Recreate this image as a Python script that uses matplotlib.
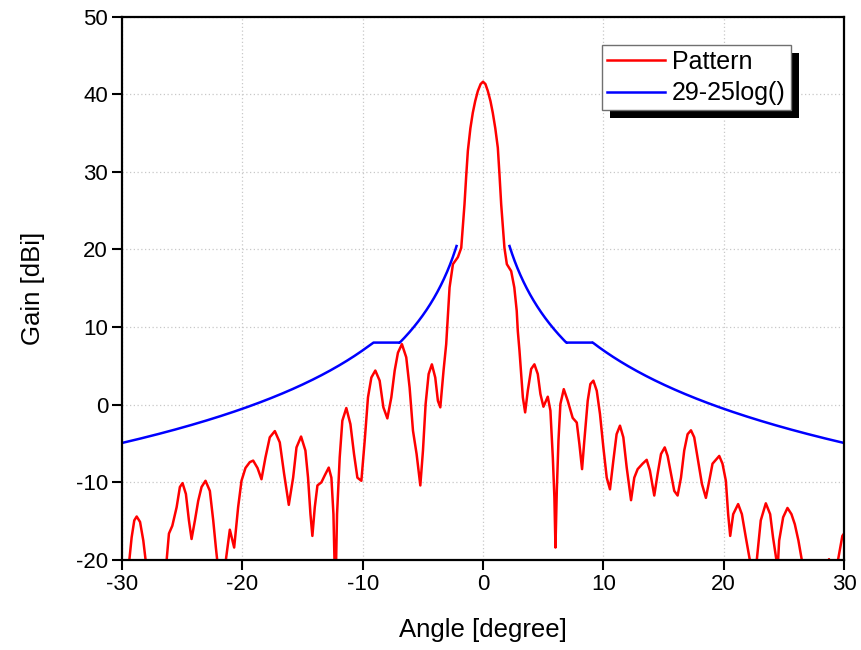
import numpy as np
import matplotlib
matplotlib.use('Agg')
import matplotlib.pyplot as plt
from matplotlib.patches import Rectangle
from matplotlib.transforms import IdentityTransform

plt.rcParams['font.family'] = ['Liberation Sans', 'DejaVu Sans']
plt.rcParams['axes.unicode_minus'] = False

# measured antenna pattern (angle in degree, gain in dBi)
angle = [-30.0, -29.6, -29.39, -29.2, -28.98, -28.78, -28.5, -28.23, -28.04, -27.6, -27.0, -26.6,
         -26.29, -26.1, -25.82, -25.46, -25.19, -24.97, -24.69, -24.44, -24.22, -23.94, -23.67,
         -23.39, -23.06, -22.7, -22.42, -22.2, -22.09, -21.75, -21.37, -21.04, -20.68, -20.35,
         -20.07, -19.74, -19.38, -19.1, -18.74, -18.41, -18.08, -17.72, -17.3, -16.89, -16.53,
         -16.14, -15.78, -15.5, -15.12, -14.76, -14.54, -14.34, -14.18, -13.98, -13.76, -13.43,
         -13.15, -12.82, -12.6, -12.43, -12.27, -12.13, -11.91, -11.69, -11.36, -11.02, -10.72,
         -10.44, -10.11, -9.83, -9.56, -9.28, -8.95, -8.59, -8.28, -7.95, -7.62, -7.34, -7.07,
         -6.74, -6.38, -6.1, -5.82, -5.52, -5.21, -4.99, -4.77, -4.52, -4.25, -3.97, -3.75,
         -3.55, -3.28, -3.06, -2.78, -2.5, -2.09, -1.81, -1.54, -1.4, -1.26, -1.05, -0.85, -0.65,
         -0.43, -0.2, 0.0, 0.2, 0.4, 0.62, 0.81, 1.02, 1.23, 1.37, 1.51, 1.78, 1.98, 2.34, 2.6,
         2.8, 2.89, 3.03, 3.17, 3.31, 3.5, 3.72,
         4.0, 4.27, 4.55, 4.77, 5.02, 5.38, 5.6, 5.8, 5.93, 6.02, 6.13, 6.27, 6.43, 6.71, 7.04,
         7.45, 7.79, 8.01, 8.23, 8.42, 8.7, 8.92, 9.17, 9.45, 9.72, 10.0, 10.28, 10.55, 10.83,
         11.1, 11.38, 11.66, 11.94, 12.3, 12.57, 12.85, 13.26, 13.6, 13.87, 14.23, 14.51, 14.79,
         15.1, 15.34, 15.62, 15.89, 16.17, 16.45, 16.72, 17.0, 17.28, 17.55, 17.83, 18.19, 18.52,
         18.8, 19.07, 19.63, 19.9, 20.18, 20.37, 20.54, 20.79, 21.2, 21.51, 21.84, 22.17, 22.45,
         22.75, 23.08, 23.5, 23.86, 24.1, 24.38, 24.45, 24.61, 24.94, 25.3, 25.63, 25.91, 26.21,
         26.49, 26.9, 27.6, 28.2, 28.75, 29.2, 29.5, 29.86, 30.0]
gain = [-30.0, -25.0, -20.0, -17.1, -14.9, -14.4, -15.1, -17.5, -20.0, -25.0, -23.0, -25.0,
        -20.0, -16.6, -15.6, -13.2, -10.6, -10.1, -11.5, -14.9, -17.3, -14.9, -12.4,
        -10.6, -9.8, -11.1, -14.9, -18.4, -20.0, -26.0, -20.0, -16.1, -18.4, -13.2,
        -9.8, -8.15, -7.4, -7.2, -8.15, -9.6, -6.8, -4.2, -3.4, -4.85, -8.9,
        -12.9, -9.4, -5.5, -4.1, -5.9, -9.4, -14.1, -16.9, -13.2, -10.4, -10.0,
        -9.1, -8.1, -9.4, -14.1, -25.0, -14.1, -6.8, -2.06, -0.43, -2.5, -6.35,
        -9.4, -9.8, -4.6, 0.94, 3.5, 4.4, 3.1, -0.34, -1.76, 0.94, 4.4, 6.7,
        7.8, 6.1, 2.2, -3.35, -6.35, -10.4, -5.9, 0.09, 3.95, 5.2, 3.5, 0.5,
        -0.34, 4.4, 7.8, 15.1, 18.1, 19.0, 20.2, 25.8, 29.4, 32.7, 35.6, 37.6, 39.1,
        40.4, 41.3, 41.6, 41.3, 40.4, 39.1, 37.6, 35.6, 33.1, 29.6, 25.8, 20.2, 18.1, 17.2, 15.1,
        12.1, 9.5, 6.95, 3.95, 0.94, -0.99, 1.8,
        4.6, 5.2, 3.95, 1.37, -0.26, 1.03, -0.77, -6.8, -11.9, -18.4, -11.1, -4.6, 0.09, 2.0, 0.5,
        -1.7, -2.3, -5.1, -8.3, -4.6, 0.5, 2.66, 3.1, 1.8, -1.2, -5.5, -9.4, -10.9, -7.2,
        -3.8, -2.7, -4.2, -8.1, -12.3, -9.4, -8.3, -7.6, -7.1, -8.5, -11.7, -8.9, -6.35,
        -5.5, -6.6, -8.9, -11.1, -11.7, -9.4, -5.9, -3.8, -3.3, -4.2, -6.8, -10.2, -12.0,
        -9.8, -7.6, -6.6, -7.6, -9.8, -14.1, -16.9, -14.1, -12.8, -14.1, -17.1, -20.0, -25.0,
        -20.0, -14.9, -12.7, -14.1, -17.1, -20.0, -22.0, -17.5, -14.5, -13.3, -14.1, -15.4, -17.5,
        -20.0, -25.0, -23.0, -25.0, -19.9, -25.0, -20.0, -16.9, -16.6]

# sidelobe envelope: (theta_from, theta_to, a, b) for gain = a - b*log10(theta)
mask_segments = [(2.2, 6.92, 29.0, 25.0),
                 (6.92, 9.12, 8.0, 0.0),
                 (9.12, 30.0, 32.0, 25.0)]

theta, env = [], []
for t0, t1, a, b in mask_segments:
    t = np.linspace(t0, t1, 200)
    theta.append(t)
    env.append(a - b * np.log10(t))
theta = np.concatenate(theta)
env = np.concatenate(env)
mask_x = np.concatenate([-theta[::-1], [np.nan], theta])
mask_y = np.concatenate([env[::-1], [np.nan], env])

fig = plt.figure(figsize=(8.61, 6.5), dpi=100)
ax = fig.add_axes([0.1417, 0.1385, 0.8386, 0.8361])

ax.plot(angle, gain, color='#ff0000', lw=1.8, label='Pattern', solid_joinstyle='round')
ax.plot(mask_x, mask_y, color='#0000ff', lw=1.8, label='29-25log()')

ax.set_xlim(-30, 30)
ax.set_ylim(-20, 50)
ax.set_xticks(range(-30, 31, 10))
ax.set_yticks(range(-20, 51, 10))
ax.set_axisbelow(True)
ax.grid(True, color='#c8c8c8', linestyle=(0, (1, 2)), lw=0.9)
for s in ax.spines.values():
    s.set_linewidth(1.6)
ax.tick_params(direction='out', length=7, width=1.5, labelsize=16, pad=3)

ax.set_xlabel('Angle [degree]', fontsize=18.5, labelpad=17)
ax.set_ylabel('Gain [dBi]', fontsize=18.5, labelpad=22)

leg = ax.legend(loc='upper left', bbox_to_anchor=(0.665, 0.9476), borderaxespad=0,
                fancybox=False, framealpha=1, edgecolor='#707070', fontsize=18,
                handlelength=2.3, handletextpad=0.3, borderpad=0.2, labelspacing=0.3)
leg.get_frame().set_linewidth(1.0)

# solid drop shadow behind the legend box
fig.canvas.draw()
bb = leg.get_frame().get_window_extent()
shadow = Rectangle((bb.x0 + 8, bb.y0 - 8), bb.width, bb.height, transform=IdentityTransform(),
                   facecolor='black', edgecolor='none', zorder=4.9, clip_on=False)
ax.add_artist(shadow)

fig.savefig('out.png', dpi=100)
